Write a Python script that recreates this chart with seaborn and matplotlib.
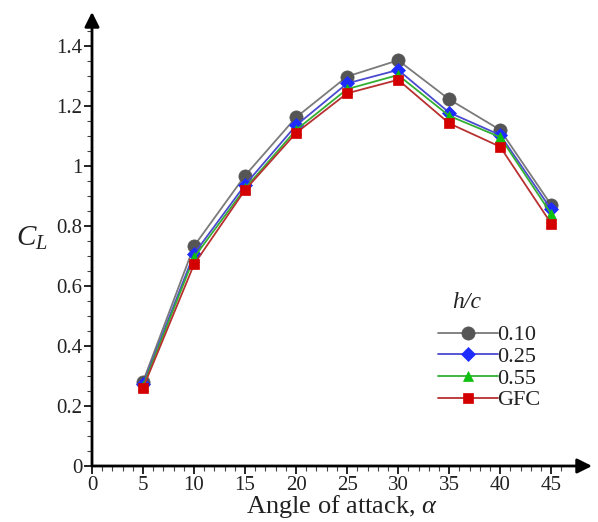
import matplotlib
matplotlib.use("Agg")
import matplotlib.pyplot as plt
from matplotlib.ticker import FixedLocator, FuncFormatter
import seaborn as sns
import pandas as pd

# Lift coefficient vs angle of attack for several ground clearances
alpha = [5, 10, 15, 20, 25, 30, 35, 40, 45]
cl_010 = [0.281, 0.733, 0.968, 1.162, 1.298, 1.352, 1.222, 1.120, 0.870]
cl_025 = [0.272, 0.707, 0.937, 1.135, 1.275, 1.320, 1.178, 1.103, 0.855]
cl_055 = [0.266, 0.695, 0.925, 1.120, 1.256, 1.303, 1.167, 1.096, 0.840]
cl_gfc = [0.260, 0.672, 0.920, 1.110, 1.242, 1.287, 1.142, 1.064, 0.808]
series_labels = ["0.10", "0.25", "0.55", "GFC"]

x_ticks = [0, 5, 10, 15, 20, 25, 30, 35, 40, 45]
y_ticks = [0, 0.2, 0.4, 0.6, 0.8, 1.0, 1.2, 1.4]

sns.set_theme(style="white")
plt.rcParams["font.family"] = ["Liberation Serif", "DejaVu Serif"]
plt.rcParams["mathtext.fontset"] = "custom"
plt.rcParams["mathtext.rm"] = "Liberation Serif"
plt.rcParams["mathtext.it"] = "Liberation Serif:italic"

frames = []
for lab, vals in zip(series_labels, [cl_010, cl_025, cl_055, cl_gfc]):
    frames.append(pd.DataFrame({"alpha": alpha, "CL": vals, "hc": lab}))
df = pd.concat(frames, ignore_index=True)

styles = {
    "0.10": dict(line="#7a7a7a", face="#555555", marker="o", ms=9.5),
    "0.25": dict(line="#4a4ad0", face="#1f2cff", marker="D", ms=7),
    "0.55": dict(line="#33b033", face="#10c010", marker="^", ms=7.5),
    "GFC":  dict(line="#b83030", face="#d40000", marker="s", ms=7),
}

fig = plt.figure(figsize=(5.98, 5.22), dpi=100)
ax = fig.add_axes([92 / 598, 56 / 522, 500 / 598, 454 / 522])

for i, lab in enumerate(series_labels):
    st = styles[lab]
    sub = df[df["hc"] == lab]
    sns.lineplot(data=sub, x="alpha", y="CL", ax=ax, color=st["line"],
                 marker=st["marker"], markersize=st["ms"],
                 markerfacecolor=st["face"], markeredgecolor=st["face"],
                 markeredgewidth=0.5, linewidth=1.3, label=lab,
                 zorder=3 + i, legend=False)

ax.set_xlim(0, 49)
ax.set_ylim(0, 1.513)

for s in ax.spines.values():
    s.set_visible(False)

# axes drawn as arrows
arrow = dict(arrowstyle="-|>", lw=2, color="black", mutation_scale=22,
             shrinkA=0, shrinkB=0)
ax.annotate("", xy=(1.0, 0), xytext=(0, 0), xycoords="axes fraction",
            textcoords="axes fraction", arrowprops=arrow, annotation_clip=False)
ax.annotate("", xy=(0, 1.0), xytext=(0, 0), xycoords="axes fraction",
            textcoords="axes fraction", arrowprops=arrow, annotation_clip=False)

ax.xaxis.set_major_locator(FixedLocator(x_ticks))
ax.xaxis.set_minor_locator(FixedLocator([v for v in range(1, 47) if v % 5]))
ax.yaxis.set_major_locator(FixedLocator(y_ticks))
ax.yaxis.set_minor_locator(FixedLocator([0.05 * k for k in range(1, 30) if k % 4]))
ax.yaxis.set_major_formatter(FuncFormatter(lambda v, p: f"{v:g}"))

ax.tick_params(axis="both", which="major", direction="out", length=6, width=1.2,
               color="black", labelsize=15, labelcolor="#222222", pad=1,
               bottom=True, left=True)
ax.tick_params(axis="both", which="minor", direction="out", length=3.5, width=0.8,
               color="#444444", bottom=True, left=True)

ax.set_xlabel(r"Angle of attack, $\mathit{\alpha}$", fontsize=19, color="#222222",
              labelpad=-1)
ax.set_ylabel("")
fig.text(32 / 598, 1 - 238 / 522, r"$C_L$", fontsize=21, color="#222222",
         ha="center", va="center")
ax.grid(False)

leg = ax.legend(loc="upper left", bbox_to_anchor=(0.66, 0.345),
                frameon=False, fontsize=16, handlelength=2.7, handletextpad=0.0,
                labelspacing=0.05, borderpad=0.2)
for t in leg.get_texts():
    t.set_color("#222222")
ax.text((467 - 92) / 500, (466 - 303) / 454, "h/c", transform=ax.transAxes,
        fontsize=17, fontstyle="italic", color="#222222", ha="center", va="center")

fig.savefig("out.png", dpi=100, facecolor="white")
